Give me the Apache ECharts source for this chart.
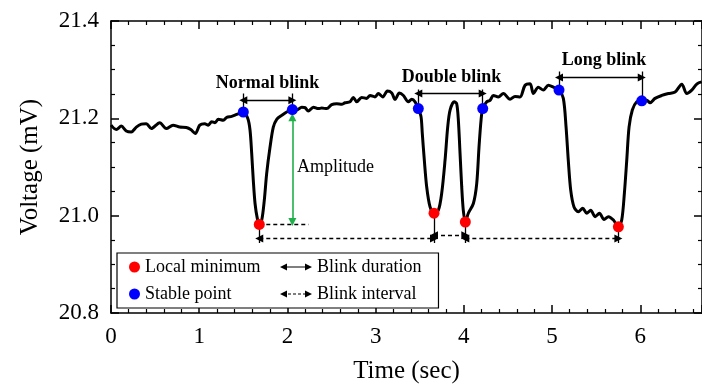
<!DOCTYPE html>
<html>
<head>
<meta charset="utf-8">
<script src="https://cdn.jsdelivr.net/npm/echarts@6/dist/echarts.min.js"></script>
<style>html,body{margin:0;padding:0;background:#fff}#c{width:702px;height:385px}</style>
</head>
<body>
<div id="c"></div>
<script>
// ---- data ----
var timeSec = [0.00,0.060,0.117,0.173,0.230,0.287,0.344,0.400,0.457,0.552,0.627,0.703,0.779,0.854,0.904,0.956,1.006,1.062,1.103,1.142,1.179,1.217,1.273,1.312,1.368,1.425,1.500,1.550,1.576,1.595,1.613,1.633,1.659,1.681,1.709,1.738,1.765,1.803,1.840,1.879,1.935,1.992,2.056,2.105,2.162,2.200,2.237,2.294,2.351,2.389,2.446,2.502,2.559,2.616,2.653,2.710,2.747,2.786,2.842,2.899,2.937,2.993,3.031,3.081,3.133,3.183,3.220,3.269,3.315,3.371,3.409,3.447,3.484,3.515,3.529,3.552,3.579,3.617,3.662,3.711,3.749,3.787,3.817,3.844,3.892,3.919,3.938,3.957,3.976,3.994,4.017,4.051,4.108,4.146,4.172,4.195,4.214,4.260,4.297,4.335,4.391,4.448,4.524,4.580,4.637,4.694,4.751,4.788,4.844,4.902,4.958,5.015,5.079,5.128,5.159,5.184,5.212,5.249,5.298,5.348,5.393,5.438,5.488,5.537,5.590,5.639,5.696,5.752,5.790,5.820,5.847,5.873,5.910,5.960,6.017,6.074,6.111,6.168,6.244,6.319,6.395,6.471,6.527,6.584,6.644,6.697];
var voltage = [21.186,21.177,21.184,21.174,21.172,21.182,21.188,21.189,21.179,21.191,21.179,21.186,21.182,21.181,21.177,21.169,21.186,21.189,21.186,21.193,21.191,21.198,21.196,21.202,21.204,21.208,21.213,21.200,21.176,21.128,21.073,21.025,20.994,20.982,20.991,21.032,21.087,21.141,21.182,21.198,21.206,21.213,21.218,21.217,21.223,21.222,21.215,21.223,21.220,21.221,21.220,21.228,21.230,21.229,21.232,21.234,21.243,21.234,21.243,21.241,21.247,21.244,21.251,21.244,21.256,21.252,21.239,21.252,21.247,21.234,21.239,21.234,21.220,21.203,21.169,21.114,21.059,21.018,21.005,21.011,21.046,21.114,21.182,21.217,21.234,21.230,21.196,21.128,21.059,21.011,20.987,21.005,21.025,21.066,21.141,21.196,21.220,21.234,21.237,21.247,21.244,21.251,21.239,21.245,21.244,21.268,21.271,21.251,21.264,21.258,21.268,21.264,21.258,21.241,21.182,21.114,21.052,21.018,21.008,21.015,21.005,21.011,20.998,21.005,20.992,20.998,20.991,20.977,20.991,21.046,21.114,21.182,21.217,21.234,21.236,21.237,21.232,21.241,21.247,21.251,21.254,21.270,21.251,21.258,21.271,21.275];

var localMinT = [1.681, 3.662, 4.017, 5.752];
var localMinV = [20.982, 21.005, 20.987, 20.977];
var stableT = [1.500, 2.056, 3.484, 4.214, 5.079, 6.017];
var stableV = [21.213, 21.218, 21.220, 21.220, 21.258, 21.236];

var blinkNames = ['Normal blink', 'Double blink', 'Long blink'];
// duration arrows: start, end, level, top of the end ticks
var durationStart = [1.500, 3.484, 5.079];
var durationEnd   = [2.056, 4.214, 6.017];
var durationLevel = [21.237, 21.251, 21.284];
var durationTop   = [21.251, 21.259, 21.296];
var blinkLabelT = [1.775, 3.861, 5.590];
var blinkLabelV = [21.272, 21.284, 21.319];
// interval arrows between local minima
var intervalLevel = [20.953, 20.960, 20.953];
var intervalDrop = 20.944;
var amplitudeRefEnd = 2.24;
var amplitudeTop = 21.202;
var amplitudeBottom = 20.987;
var amplitudeLabelPos = [2.11, 21.100];

var xTicks = [0, 1, 2, 3, 4, 5, 6];
var yTicks = [20.8, 21.0, 21.2, 21.4];

// ---- build ----
var FONT = 'Liberation Serif';
var signal = timeSec.map(function (t, i) { return [t, voltage[i]]; });
var minPts = localMinT.map(function (t, i) { return [t, localMinV[i]]; });
var stablePts = stableT.map(function (t, i) { return [t, stableV[i]]; });

var durLines = [], durTicks = [];
for (var i = 0; i < durationStart.length; i++) {
  durLines.push({ coords: [[durationStart[i], durationLevel[i]], [durationEnd[i], durationLevel[i]]] });
  durTicks.push({ coords: [[durationStart[i], stableV[i * 2]], [durationStart[i], durationTop[i]]] });
  durTicks.push({ coords: [[durationEnd[i], stableV[i * 2 + 1]], [durationEnd[i], durationTop[i]]] });
}
var intLines = [], dropLines = [];
for (var j = 0; j < localMinT.length - 1; j++) {
  intLines.push({ coords: [[localMinT[j], intervalLevel[j]], [localMinT[j + 1], intervalLevel[j]]] });
}
for (var k = 0; k < localMinT.length; k++) {
  dropLines.push({ coords: [[localMinT[k], localMinV[k]], [localMinT[k], intervalDrop]] });
}
var ampRef = [{ coords: [[localMinT[0], localMinV[0]], [amplitudeRefEnd, localMinV[0]]] }];
var ampArrow = [{ coords: [[stableT[1], amplitudeTop], [stableT[1], amplitudeBottom]] }];
var blinkLabels = blinkNames.map(function (n, i) { return { name: n, value: [blinkLabelT[i], blinkLabelV[i]] }; });

var solidIcon = 'path://M0,5L7,1.5L7,4.4L25,4.4L25,1.5L32,5L25,8.5L25,5.6L7,5.6L7,8.5Z';
var dashIcon = 'path://M0,5L7,1.5L7,8.5Z M8,4.4L11,4.4L11,5.6L8,5.6Z M13,4.4L16,4.4L16,5.6L13,5.6Z M18,4.4L21,4.4L21,5.6L18,5.6Z M23,4.4L25,4.4L25,5.6L23,5.6Z M32,5L25,1.5L25,8.5Z';

var axisCommon = {
  type: 'value',
  axisLine: { show: true, onZero: false, lineStyle: { color: '#000', width: 1.5 } },
  axisTick: { show: true, inside: true, length: 8, lineStyle: { color: '#000', width: 1.5 } },
  splitLine: { show: false },
  minorSplitLine: { show: false }
};
function ax(extra) { return Object.assign({}, JSON.parse(JSON.stringify(axisCommon)), extra); }
function minor(n) { return { show: true, splitNumber: n, length: 4, lineStyle: { color: '#000', width: 1.2 } }; }

var legendIconOff = { itemStyle: { borderWidth: 0 }, lineStyle: { width: 0, opacity: 0 } };

var chart = echarts.init(document.getElementById('c'), null, { renderer: 'canvas' });
chart.setOption({
  animation: false,
  backgroundColor: '#fff',
  grid: { left: 111, right: 0, top: 21, bottom: 72, containLabel: false, outerBoundsMode: 'none' },
  xAxis: [
    ax({ min: 0, max: 6.7, interval: 1, position: 'bottom', minorTick: minor(5),
      axisLabel: { show: true, showMaxLabel: false, margin: 12, color: '#000', fontFamily: FONT, fontSize: 23,
        formatter: function (v) { return xTicks.indexOf(v) >= 0 ? String(v) : ''; } },
      name: 'Time (sec)', nameLocation: 'middle', nameGap: 46,
      nameTextStyle: { fontFamily: FONT, fontSize: 25, color: '#000' } }),
    ax({ min: 0, max: 6.7, interval: 1, position: 'top', minorTick: minor(5), axisLabel: { show: false } })
  ],
  yAxis: [
    ax({ min: 20.8, max: 21.4, interval: 0.2, position: 'left', minorTick: minor(4),
      axisLabel: { show: true, margin: 12, color: '#000', fontFamily: FONT, fontSize: 23,
        formatter: function (v) { return yTicks.indexOf(+v.toFixed(1)) >= 0 ? v.toFixed(1) : ''; } },
      name: 'Voltage (mV)', nameLocation: 'middle', nameGap: 68,
      nameTextStyle: { fontFamily: FONT, fontSize: 25, color: '#000' } }),
    ax({ min: 20.8, max: 21.4, interval: 0.2, position: 'right', minorTick: minor(4), axisLabel: { show: false } })
  ],
  legend: [
    { data: [{ name: 'Local minimum', icon: 'circle' }, { name: 'Stable point', icon: 'circle' }],
      orient: 'vertical', left: 117, top: 253, itemWidth: 11, itemHeight: 11, itemGap: 9,
      padding: [5, 178, 5, 12], backgroundColor: '#fff', borderColor: '#000', borderWidth: 1.2, borderRadius: 0,
      itemStyle: { borderWidth: 0, opacity: 1 },
      textStyle: { fontFamily: FONT, fontSize: 18, color: '#000' }, selectedMode: false, z: 5 },
    Object.assign({ data: [{ name: 'Blink duration', icon: solidIcon }, { name: 'Blink interval', icon: dashIcon }],
      orient: 'vertical', left: 280, top: 258, itemWidth: 32, itemHeight: 10, itemGap: 9, padding: 0,
      textStyle: { fontFamily: FONT, fontSize: 18, color: '#000' }, selectedMode: false, z: 6 }, legendIconOff)
  ],
  series: [
    { name: 'signal', type: 'line', data: signal, smooth: 0.3, symbol: 'none',
      lineStyle: { color: '#000', width: 3 }, z: 3, silent: true },
    { name: 'Blink duration', type: 'lines', coordinateSystem: 'cartesian2d', data: durLines,
      symbol: ['triangle', 'triangle'], symbolSize: 8, itemStyle: { color: '#000' },
      lineStyle: { color: '#000', width: 1.3, opacity: 1 }, z: 4, silent: true },
    { name: 'durTicks', type: 'lines', coordinateSystem: 'cartesian2d', data: durTicks,
      symbol: ['none', 'none'], lineStyle: { color: '#000', width: 1.3, opacity: 1 }, z: 4, silent: true },
    { name: 'Blink interval', type: 'lines', coordinateSystem: 'cartesian2d', data: intLines,
      symbol: ['triangle', 'triangle'], symbolSize: 8, itemStyle: { color: '#000' },
      lineStyle: { color: '#000', width: 1.3, opacity: 1, type: [4, 3] }, z: 4, silent: true },
    { name: 'drops', type: 'lines', coordinateSystem: 'cartesian2d', data: dropLines,
      symbol: ['none', 'none'], lineStyle: { color: '#000', width: 1.3, opacity: 1 }, z: 4, silent: true },
    { name: 'ampRef', type: 'lines', coordinateSystem: 'cartesian2d', data: ampRef,
      symbol: ['none', 'none'], lineStyle: { color: '#000', width: 1.3, opacity: 1, type: [4, 3] }, z: 4, silent: true },
    { name: 'amplitude', type: 'lines', coordinateSystem: 'cartesian2d', data: ampArrow,
      symbol: ['triangle', 'triangle'], symbolSize: 8, itemStyle: { color: '#1fb04a' },
      lineStyle: { color: '#1fb04a', width: 1.6, opacity: 1 }, z: 4, silent: true },
    { name: 'Local minimum', type: 'scatter', data: minPts, symbol: 'circle', symbolSize: 11,
      itemStyle: { color: '#ff0000', opacity: 1 }, z: 6, silent: true },
    { name: 'Stable point', type: 'scatter', data: stablePts, symbol: 'circle', symbolSize: 11,
      itemStyle: { color: '#0000ff', opacity: 1 }, z: 6, silent: true },
    { name: 'blinkLabels', type: 'scatter', data: blinkLabels, symbolSize: 0, silent: true, z: 7,
      itemStyle: { opacity: 1 },
      label: { show: true, position: 'inside', formatter: '{b}', fontFamily: FONT, fontWeight: 'bold', fontSize: 18, color: '#000', opacity: 1 } },
    { name: 'ampLabel', type: 'scatter', data: [{ name: 'Amplitude', value: amplitudeLabelPos }], symbolSize: 0, silent: true, z: 7,
      itemStyle: { opacity: 1 },
      label: { show: true, position: 'right', distance: 0, formatter: '{b}', fontFamily: FONT, fontSize: 18, color: '#000', opacity: 1 } }
  ]
});
</script>
</body>
</html>
